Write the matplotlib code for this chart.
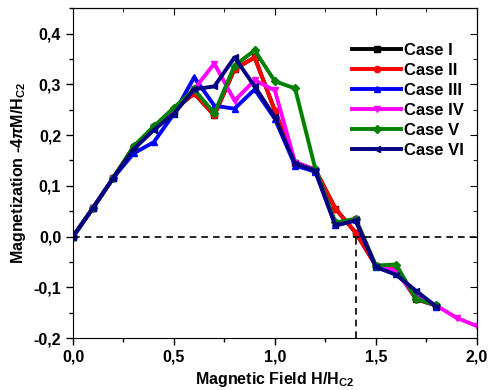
import numpy as np
import matplotlib.pyplot as plt
from matplotlib.ticker import FuncFormatter, MultipleLocator

plt.rcParams['font.family'] = 'Liberation Sans'
plt.rcParams['font.weight'] = 'bold'
plt.rcParams['mathtext.fontset'] = 'custom'
plt.rcParams['mathtext.rm'] = 'Liberation Sans:bold'
plt.rcParams['mathtext.bf'] = 'Liberation Sans:bold'
plt.rcParams['mathtext.it'] = 'Liberation Sans:italic'

# --- data ---
h = [0.0, 0.1, 0.2, 0.3, 0.4, 0.5, 0.6, 0.7, 0.8, 0.9, 1.0,
     1.1, 1.2, 1.3, 1.4, 1.5, 1.6, 1.7, 1.8, 1.9, 2.0]
h18 = h[:19]

case1 = [0.0, 0.057, 0.116, 0.176, 0.215, 0.250, 0.282, 0.239, 0.330, 0.353, 0.248,
         0.146, 0.132, 0.055, 0.008, -0.057, -0.065, -0.123, -0.136]
case2 = [0.0, 0.057, 0.116, 0.176, 0.215, 0.250, 0.282, 0.239, 0.330, 0.353, 0.248,
         0.146, 0.132, 0.055, 0.008, -0.057, -0.065, -0.123, -0.136]
case3 = [0.0, 0.057, 0.116, 0.164, 0.186, 0.242, 0.314, 0.258, 0.252, 0.290, 0.232,
         0.140, 0.128, 0.022, 0.032, -0.060, -0.073, -0.110, -0.138]
case4 = [0.0, 0.057, 0.116, 0.176, 0.215, 0.250, 0.290, 0.341, 0.268, 0.308, 0.288,
         0.146, 0.132, 0.024, 0.035, -0.057, -0.068, -0.120, -0.136, -0.160, -0.176]
case5 = [0.0, 0.057, 0.116, 0.178, 0.217, 0.254, 0.290, 0.243, 0.337, 0.367, 0.306,
         0.292, 0.134, 0.028, 0.035, -0.057, -0.055, -0.123, -0.135]
case6 = [0.0, 0.057, 0.116, 0.172, 0.210, 0.242, 0.290, 0.296, 0.353, 0.296, 0.235,
         0.144, 0.130, 0.022, 0.032, -0.060, -0.075, -0.107, -0.138]

series = [
    (h18, case1, "Case I", "black", "s"),
    (h18, case2, "Case II", "red", "o"),
    (h18, case3, "Case III", "blue", "^"),
    (h, case4, "Case IV", "magenta", "v"),
    (h18, case5, "Case V", "green", "D"),
    (h18, case6, "Case VI", "navy", "<"),
]

fig = plt.figure(figsize=(4.9, 3.9), dpi=100)
ax = fig.add_axes([0.149, 0.133, 0.824, 0.846])

for x, y, lab, col, mk in series:
    ax.plot(x, y, color=col, marker=mk, markersize=4.5, linewidth=2.8, label=lab)

# guide lines
ax.plot([0, 2], [0, 0], color="black", linestyle=(0, (4, 3)), linewidth=1.2)
ax.plot([1.4, 1.4], [-0.2, 0], color="black", linestyle=(0, (4, 3)), linewidth=1.2)

ax.set_xlim(0, 2.0)
ax.set_ylim(-0.2, 0.45)
ax.xaxis.set_major_locator(MultipleLocator(0.5))
ax.xaxis.set_minor_locator(MultipleLocator(0.25))
ax.yaxis.set_major_locator(MultipleLocator(0.1))
ax.yaxis.set_minor_locator(MultipleLocator(0.05))
comma = FuncFormatter(lambda v, p: f"{v:.1f}".replace(".", ",").replace("-0,0", "0,0"))
ax.xaxis.set_major_formatter(comma)
ax.yaxis.set_major_formatter(comma)
ax.tick_params(which="both", direction="out", labelsize=11.5)
ax.tick_params(which="major", length=5, width=1)
ax.tick_params(which="minor", length=3, width=1)

ax2 = ax.secondary_xaxis("top")
ax2.xaxis.set_major_locator(MultipleLocator(0.5))
ax2.xaxis.set_minor_locator(MultipleLocator(0.25))
ax2.tick_params(which="both", direction="in", labeltop=False)
ax2.tick_params(which="major", length=5)
ax2.tick_params(which="minor", length=3)
ay2 = ax.secondary_yaxis("right")
ay2.yaxis.set_major_locator(MultipleLocator(0.1))
ay2.yaxis.set_minor_locator(MultipleLocator(0.05))
ay2.tick_params(which="both", direction="in", labelright=False)
ay2.tick_params(which="major", length=5)
ay2.tick_params(which="minor", length=3)

ax.set_xlabel(r"Magnetic Field H/H$_{\mathbf{C2}}$", fontsize=11.5, fontweight="bold")
ax.set_ylabel(r"Magnetization -4$\pi$M/H$_{\mathbf{C2}}$", fontsize=11.5, fontweight="bold")

ax.legend(loc="upper left", bbox_to_anchor=(0.655, 0.94), frameon=False,
          fontsize=12, handlelength=2.9, handletextpad=0.2, labelspacing=0.3)

fig.savefig("out.png", dpi=100)
